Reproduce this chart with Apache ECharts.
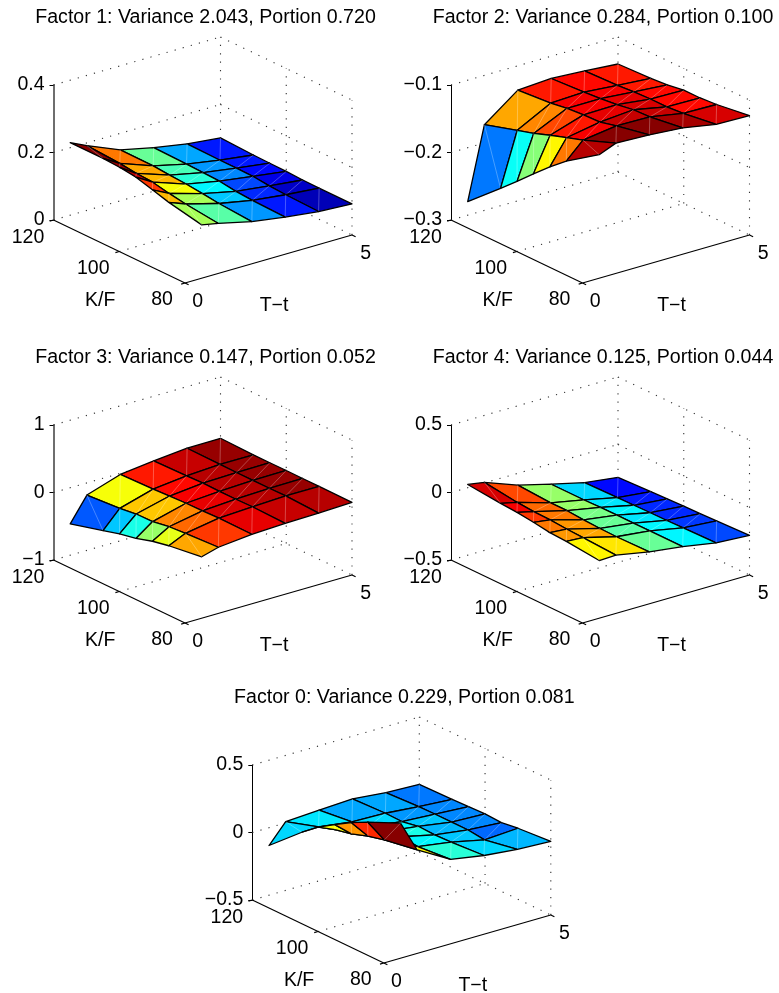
<!DOCTYPE html>
<html><head><meta charset="utf-8">
<style>html,body{margin:0;padding:0;background:#fff}#c{width:779px;height:993px}</style>
<script src="https://cdn.jsdelivr.net/npm/echarts@6/dist/echarts.min.js"></script>
</head><body><div id="c"></div>
<script>
// Grid of the surfaces
const maturities = [0.5, 1, 2, 3, 4, 5];            // T-t
const strikes = [80, 90, 95, 100, 105, 110, 120];   // K/F
// Axis ticks
const kTicks = [80, 100, 120];
const tTicks = [0, 5];
// Surface heights: one row per maturity, one column per strike
const factor1 = [
  [.158,.178,.192,.206,.212,.215,.215],
  [.148,.159,.167,.177,.180,.186,.192],
  [.125,.132,.138,.143,.146,.150,.151],
  [.110,.113,.116,.123,.125,.127,.129],
  [.098,.101,.104,.109,.110,.110,.112],
  [.092,.092,.093,.095,.096,.097,.101]];
const factor2 = [
  [-.117,-.150,-.170,-.192,-.215,-.237,-.280],
  [-.107,-.126,-.134,-.142,-.151,-.158,-.173],
  [-.109,-.119,-.125,-.126,-.128,-.132,-.136],
  [-.113,-.120,-.121,-.125,-.128,-.130,-.133],
  [-.122,-.129,-.131,-.131,-.132,-.134,-.136],
  [-.123,-.130,-.132,-.132,-.136,-.138,-.140]];
const factor3 = [
  [-.090,-.160,-.210,-.285,-.333,-.402,-.536],
  [-.020,-.047,-.066,-.106,-.111,-.145,-.180],
  [.030,.037,.027,.023,.013,-.002,-.017],
  [.050,.062,.057,.057,.062,.052,.042],
  [.060,.082,.077,.077,.077,.082,.087],
  [.077,.080,.080,.082,.080,.080,.092]];
const factor4 = [
  [-.073,-.048,-.041,-.023,-.008,.001,.024],
  [-.068,-.055,-.050,-.041,-.038,-.028,.004],
  [-.115,-.120,-.117,-.112,-.102,-.102,-.088],
  [-.147,-.147,-.149,-.147,-.149,-.152,-.152],
  [-.191,-.196,-.200,-.201,-.204,-.206,-.211],
  [-.206,-.216,-.221,-.223,-.228,-.233,-.243]];
const factor0 = [
  [.500,.392,.330,.256,.179,.083,-.132],
  [.266,.224,.194,.152,.125,.088,.009],
  [.125,.103,.118,.098,.076,.053,.024],
  [.083,.066,.061,.066,.043,.046,.036],
  [.058,.011,.026,.026,.026,.024,.011],
  [.046,.026,.009,.016,.011,.006,.001]];
const titles = [
  'Factor 1: Variance 2.043, Portion 0.720',
  'Factor 2: Variance 0.284, Portion 0.100',
  'Factor 3: Variance 0.147, Portion 0.052',
  'Factor 4: Variance 0.125, Portion 0.044',
  'Factor 0: Variance 0.229, Portion 0.081'];
const zRanges = [[0,.4,.2],[-.3,-.1,.1],[-1,1,1],[-.5,.5,.5],[-.5,.5,.5]];
const surfaces = [factor1, factor2, factor3, factor4, factor0];

// Layout
const FONT = 'Liberation Sans', FS = 19.5;
const boxes = [[53.5,85],[451,85],[53.5,425],[451,425],[252.3,765]];
const axisStyle = [['#6e6e6e',2],['#000',1],['#6e6e6e',2],['#000',1],['#000',1]];
const W = 298.5, H = 135, TX = 167, TY = 48, KX = 131.5, KY = 63;

function jet(f){
  const i = Math.min(63, Math.max(0, Math.floor(f*64)));
  const x = (i+.5)/64;
  const c = v => Math.round(255*Math.max(0, Math.min(1, v)));
  return `rgb(${c(Math.min(4*x-1.5,-4*x+4.5))},${c(Math.min(4*x-.5,-4*x+3.5))},${c(Math.min(4*x+.5,-4*x+2.5))})`;
}
const option = {backgroundColor:'#fff',animation:false,title:[],grid:[],xAxis:[],yAxis:[],series:[]};

surfaces.forEach((Z,idx)=>{
  const [zmin,zmax,zstep] = zRanges[idx], [bx,by] = boxes[idx], r = zmax-zmin;
  const Tm = tTicks[1], Kn = kTicks[0], Kx = kTicks[2];
  const proj = (T,K,z)=>[(T/Tm*TX+(Kx-K)/(Kx-Kn)*KX)/W,
                         z+(T/Tm*TY-(Kx-K)/(Kx-Kn)*KY)/H*r];
  option.title.push({text:titles[idx],left:bx+147,top:by-85+2.5,textAlign:'center',
    textStyle:{fontFamily:FONT,fontSize:19.6,fontWeight:'normal',color:'#000'}});
  option.grid.push({left:bx,top:by,width:W,height:H,containLabel:false});
  option.xAxis.push({type:'value',gridIndex:idx,min:0,max:1,show:false});
  option.yAxis.push({type:'value',gridIndex:idx,min:zmin,max:zmax,interval:zstep,position:'left',
    axisLine:{show:true,onZero:false,lineStyle:{color:axisStyle[idx][0],width:axisStyle[idx][1]}},
    axisTick:{show:true,length:4,lineStyle:{color:'#000',width:1}},
    splitLine:{show:false},
    axisLabel:{margin:9,fontFamily:FONT,fontSize:FS,color:'#000',
      formatter:v=>String(+v.toFixed(3)).replace('-','\u2212')}});

  // Dotted box and grid, solid floor axes and ticks
  const dotted = [], solid = [];
  const zt = []; for(let n=0;n<=Math.round(r/zstep);n++) zt.push(zmin+n*zstep);
  zt.forEach(z=>{ dotted.push([0,Kx,z,Tm,Kx,z]); dotted.push([Tm,Kx,z,Tm,Kn,z]); });
  dotted.push([Tm,Kx,zmin,Tm,Kx,zmax],[Tm,Kn,zmin,Tm,Kn,zmax],[Tm,kTicks[1],zmin,Tm,kTicks[1],zmax],
              [0,kTicks[1],zmin,Tm,kTicks[1],zmin]);
  solid.push([0,Kx,zmin,0,Kn,zmin],[0,Kn,zmin,Tm,Kn,zmin]);
  const tickT = 4/Math.hypot(TX,TY)*Tm, tickK = 4/Math.hypot(KX,KY)*(Kx-Kn);
  kTicks.forEach(k=>solid.push([0,k,zmin,-tickT,k,zmin]));
  tTicks.forEach(t=>solid.push([t,Kn,zmin,t,Kn-tickK,zmin]));
  option.series.push({type:'custom',xAxisIndex:idx,yAxisIndex:idx,silent:true,z:1,clip:false,
    data:dotted.concat(solid).map((d,i)=>[i]),
    renderItem:(p,api)=>{
      const i=p.dataIndex, isDot=i<dotted.length, s=isDot?dotted[i]:solid[i-dotted.length];
      const a=api.coord(proj(s[0],s[1],s[2])), b=api.coord(proj(s[3],s[4],s[5]));
      return {type:'line',shape:{x1:a[0],y1:a[1],x2:b[0],y2:b[1]},
        style:isDot?{stroke:'#333',lineWidth:1.1,lineDash:[1.2,7.2]}:{stroke:'#000',lineWidth:1.2}};
    }});

  // Faces, far to near
  const flat = Z.flat(), cmin = Math.min(...flat), cmax = Math.max(...flat);
  const faces = [];
  for(let k=strikes.length-2;k>=0;k--) for(let t=maturities.length-2;t>=0;t--) faces.push([t,k]);
  option.series.push({type:'custom',xAxisIndex:idx,yAxisIndex:idx,silent:true,z:2,clip:false,
    data:faces,
    renderItem:(p,api)=>{
      const t=api.value(0),k=api.value(1);
      const P=(a,b)=>api.coord(proj(maturities[a],strikes[b],Z[a][b]));
      const a=P(t,k),b=P(t+1,k),c=P(t+1,k+1),d=P(t,k+1);
      return {type:'group',children:[
        {type:'polygon',shape:{points:[a,b,c,d]},style:{fill:jet((Z[t][k]-cmin)/(cmax-cmin)),stroke:'#000',lineWidth:1.3,lineJoin:'round'}},
        {type:'line',shape:{x1:a[0],y1:a[1],x2:c[0],y2:c[1]},style:{stroke:'rgba(255,255,255,.28)',lineWidth:1}}
      ]};
    }});

  // K and T tick labels and axis names
  const labels = [];
  kTicks.forEach((k,j)=>labels.push([String(k),0,k,[-25.5,-26,-23][2-j],[18,17.5,17][2-j]]));
  tTicks.forEach(t=>labels.push([String(t),t,Kn,t?13.7:12.7,t?18.7:19]));
  labels.push(['K/F',0,kTicks[1],-19,49.5],['T\u2212t',Tm/2,Kn,5.5,47]);
  option.series.push({type:'custom',xAxisIndex:idx,yAxisIndex:idx,silent:true,z:3,clip:false,
    data:labels.map((l,i)=>[i]),
    renderItem:(p,api)=>{
      const l=labels[p.dataIndex], c=api.coord(proj(l[1],l[2],zmin));
      return {type:'text',x:c[0]+l[3],y:c[1]+l[4],
        style:{text:l[0],fontFamily:FONT,fontSize:FS,fill:'#000',align:'center',verticalAlign:'middle'}};
    }});
});
const chart = echarts.init(document.getElementById('c'),null,{renderer:'canvas'});
chart.setOption(option);
</script></body></html>
